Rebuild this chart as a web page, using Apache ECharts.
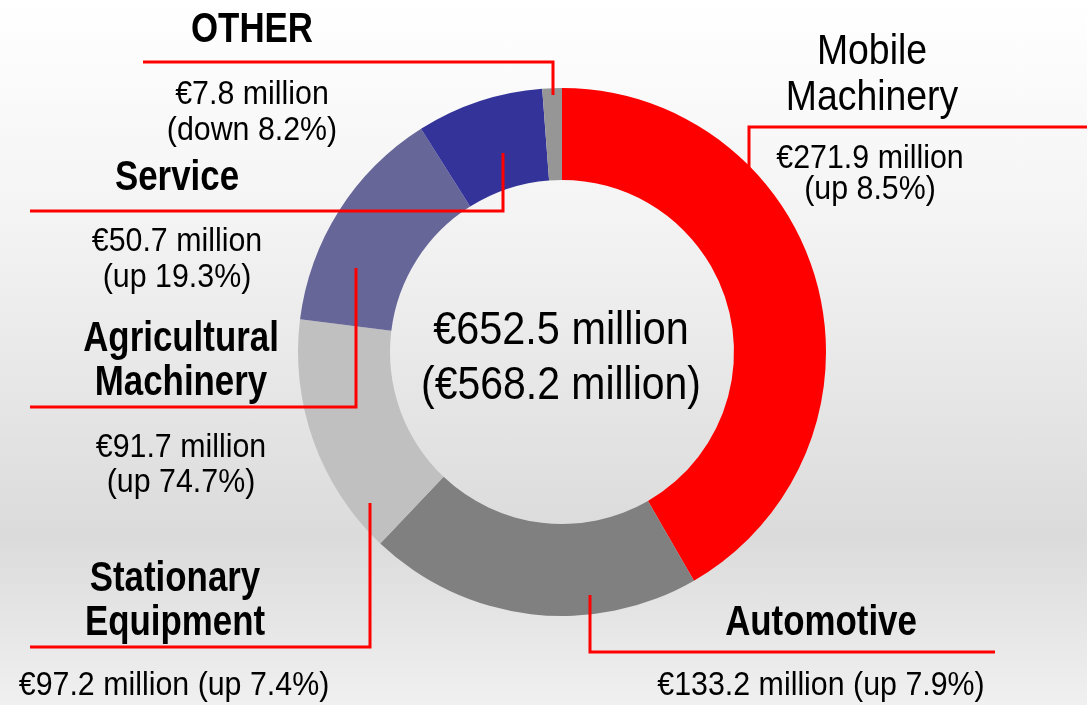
<!DOCTYPE html>
<html>
<head>
<meta charset="utf-8">
<script src="https://cdn.jsdelivr.net/npm/echarts@6/dist/echarts.min.js"></script>
<style>
  html, body { margin: 0; padding: 0; }
  #chart {
    width: 1087px;
    height: 705px;
    background: linear-gradient(to bottom, #ffffff 0%, #f4f4f4 30%, #dbdbdb 76%, #f0f0f0 100%);
  }
</style>
</head>
<body>
<div id="chart"></div>
<script>
// sales by segment, € million
const names = ['Mobile Machinery', 'Automotive', 'Stationary Equipment', 'Agricultural Machinery', 'Service', 'OTHER']
const values = [271.9, 133.2, 97.2, 91.7, 50.7, 7.8]
const changes = ['up 8.5%', 'up 7.9%', 'up 7.4%', 'up 74.7%', 'up 19.3%', 'down 8.2%']
const prevTotal = 568.2
const colors = ['#ff0000', '#808080', '#c0c0c0', '#666699', '#333399', '#969696']

// where each callout sits (title lines, value lines, leader line)
const callouts = [
  { x: 872, titleY: [52, 98], valX: 870, valY: [159, 190], bold: false, line: [[749, 190], [749, 127], [1087, 127]] },
  { x: 821, titleY: [623], valX: 821, valY: [686], bold: true, line: [[590, 595], [590, 652], [995, 652]] },
  { x: 175, titleY: [579, 623], valX: 174, valY: [686], bold: true, line: [[370, 503], [370, 647], [30, 647]] },
  { x: 181, titleY: [339, 383], valX: 181, valY: [448, 483], bold: true, line: [[356, 268], [356, 407], [30, 407]] },
  { x: 177, titleY: [178], valX: 177, valY: [242, 278], bold: true, line: [[503, 153], [503, 211], [30, 211]] },
  { x: 252, titleY: [30], valX: 252, valY: [95, 131], bold: true, line: [[553, 95], [553, 62], [143, 62]] },
]

const FONT = '"Liberation Sans", Arial, sans-serif'

function txt(x, y, text, size, bold, sx) {
  return {
    type: 'text',
    x: x,
    y: y,
    scaleX: sx,
    z: 10,
    style: {
      text: text,
      fill: '#000',
      fontFamily: FONT,
      fontSize: size,
      fontWeight: bold ? 'bold' : 'normal',
      align: 'center',
      verticalAlign: 'middle',
    },
  }
}

const graphics = []
callouts.forEach((c, i) => {
  graphics.push({
    type: 'polyline',
    z: 5,
    shape: { points: c.line },
    style: { stroke: '#ff0000', lineWidth: 3, fill: null },
  })
  const titleLines = c.titleY.length > 1 ? names[i].split(' ') : [names[i]]
  titleLines.forEach((t, k) => {
    graphics.push(txt(c.x, c.titleY[k], t, 42, c.bold, c.bold ? 0.83 : 0.89))
  })
  const amount = '€' + values[i].toFixed(1) + ' million'
  const valLines = c.valY.length > 1 ? [amount, '(' + changes[i] + ')'] : [amount + ' (' + changes[i] + ')']
  valLines.forEach((t, k) => {
    graphics.push(txt(c.valX, c.valY[k], t, 33, false, 0.92))
  })
})

const total = values.reduce((a, b) => a + b, 0)
graphics.push(txt(561, 331, '€' + total.toFixed(1) + ' million', 46, false, 0.9))
graphics.push(txt(561, 386, '(€' + prevTotal.toFixed(1) + ' million)', 46, false, 0.89))

const chart = echarts.init(document.getElementById('chart'))
chart.setOption({
  backgroundColor: 'transparent',
  animation: false,
  graphic: graphics,
  series: [
    {
      type: 'pie',
      center: [562, 352],
      radius: [172, 264],
      startAngle: 90,
      clockwise: true,
      silent: true,
      label: { show: false },
      labelLine: { show: false },
      itemStyle: { borderWidth: 0 },
      data: names.map((n, i) => ({ name: n, value: values[i], itemStyle: { color: colors[i] } })),
    },
  ],
})
</script>
</body>
</html>
